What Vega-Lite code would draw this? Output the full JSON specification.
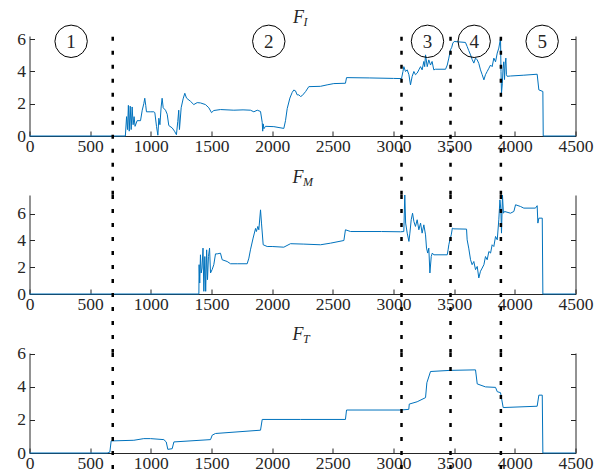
{
  "$schema": "https://vega.github.io/schema/vega-lite/v6.json",
  "padding": {"left": 16.5, "top": 8, "right": 0, "bottom": 0},
  "background": "white",
  "bounds": "flush",
  "spacing": 59,
  "config": {
    "view": {"stroke": null},
    "axis": {
      "domainColor": "#262626", "tickColor": "#262626", "labelColor": "#262626",
      "labelFont": "Liberation Serif", "labelFontSize": 17.5, "tickSize": -5,
      "grid": false, "title": null, "domainWidth": 1, "tickWidth": 1
    },
    "axisX": {"labelPadding": 6},
    "axisY": {"labelPadding": 9}
  },
  "datasets": {
    "FI": [
      {"t":0,"v":0},{"t":790,"v":0},{"t":800,"v":1.2},{"t":808,"v":0.4},{"t":815,"v":1.9},{"t":822,"v":0.3},{"t":830,"v":1.85},{"t":838,"v":0.4},{"t":846,"v":1.8},{"t":854,"v":0.7},{"t":862,"v":1.2},{"t":870,"v":0.6},{"t":887,"v":0.95},{"t":915,"v":0.95},{"t":929,"v":1.6},{"t":942,"v":2.0},{"t":950,"v":2.34},{"t":958,"v":1.9},{"t":964,"v":1.5},{"t":1000,"v":1.5},{"t":1025,"v":1.5},{"t":1033,"v":1.45},{"t":1047,"v":0.58},{"t":1058,"v":0.05},{"t":1066,"v":1.1},{"t":1075,"v":0.7},{"t":1085,"v":1.8},{"t":1093,"v":2.34},{"t":1102,"v":1.75},{"t":1121,"v":1.6},{"t":1135,"v":1.35},{"t":1148,"v":0.65},{"t":1176,"v":0.5},{"t":1195,"v":0.3},{"t":1211,"v":0.08},{"t":1222,"v":0.9},{"t":1230,"v":1.6},{"t":1236,"v":0.4},{"t":1250,"v":1.75},{"t":1266,"v":2.3},{"t":1280,"v":2.65},{"t":1294,"v":2.35},{"t":1327,"v":2.15},{"t":1354,"v":1.95},{"t":1382,"v":2.07},{"t":1409,"v":2.05},{"t":1450,"v":1.95},{"t":1478,"v":1.75},{"t":1500,"v":1.45},{"t":1519,"v":1.58},{"t":1574,"v":1.64},{"t":1684,"v":1.6},{"t":1760,"v":1.62},{"t":1821,"v":1.6},{"t":1849,"v":1.5},{"t":1877,"v":1.6},{"t":1904,"v":1.52},{"t":1918,"v":0.85},{"t":1922,"v":0.3},{"t":1926,"v":0.75},{"t":1932,"v":0.45},{"t":1945,"v":0.6},{"t":2014,"v":0.58},{"t":2096,"v":0.47},{"t":2110,"v":0.95},{"t":2124,"v":1.7},{"t":2146,"v":2.35},{"t":2165,"v":2.7},{"t":2178,"v":2.85},{"t":2192,"v":2.8},{"t":2206,"v":2.55},{"t":2220,"v":2.55},{"t":2234,"v":2.45},{"t":2247,"v":2.5},{"t":2275,"v":2.75},{"t":2302,"v":3.06},{"t":2398,"v":3.08},{"t":2453,"v":3.17},{"t":2508,"v":3.25},{"t":2604,"v":3.27},{"t":2613,"v":3.62},{"t":2800,"v":3.6},{"t":3000,"v":3.57},{"t":3066,"v":3.56},{"t":3078,"v":4.0},{"t":3085,"v":4.3},{"t":3099,"v":4.0},{"t":3113,"v":4.1},{"t":3127,"v":3.8},{"t":3140,"v":3.17},{"t":3154,"v":3.7},{"t":3168,"v":4.0},{"t":3181,"v":3.8},{"t":3195,"v":3.9},{"t":3209,"v":4.1},{"t":3223,"v":4.3},{"t":3236,"v":4.1},{"t":3250,"v":4.62},{"t":3257,"v":4.3},{"t":3264,"v":5.03},{"t":3278,"v":4.3},{"t":3291,"v":4.72},{"t":3305,"v":4.4},{"t":3318,"v":4.62},{"t":3332,"v":4.1},{"t":3346,"v":4.14},{"t":3429,"v":4.14},{"t":3443,"v":4.4},{"t":3456,"v":4.83},{"t":3470,"v":5.35},{"t":3480,"v":5.5},{"t":3489,"v":5.76},{"t":3500,"v":5.86},{"t":3593,"v":5.8},{"t":3607,"v":5.55},{"t":3620,"v":5.3},{"t":3635,"v":5.03},{"t":3648,"v":4.75},{"t":3662,"v":4.52},{"t":3676,"v":4.83},{"t":3690,"v":4.72},{"t":3703,"v":4.5},{"t":3717,"v":4.1},{"t":3731,"v":3.8},{"t":3745,"v":3.48},{"t":3758,"v":3.8},{"t":3772,"v":4.0},{"t":3786,"v":4.2},{"t":3800,"v":4.4},{"t":3813,"v":4.3},{"t":3827,"v":4.83},{"t":3841,"v":4.6},{"t":3855,"v":5.14},{"t":3868,"v":5.45},{"t":3882,"v":6.07},{"t":3886,"v":4.0},{"t":3890,"v":2.65},{"t":3897,"v":3.27},{"t":3903,"v":4.2},{"t":3909,"v":4.6},{"t":3915,"v":3.5},{"t":3920,"v":4.4},{"t":3926,"v":4.83},{"t":3931,"v":3.8},{"t":3937,"v":3.7},{"t":3964,"v":3.72},{"t":4074,"v":3.77},{"t":4184,"v":3.83},{"t":4198,"v":2.86},{"t":4231,"v":2.76},{"t":4234,"v":0},{"t":4500,"v":0}
    ],
    "FM": [
      {"t":0,"v":0},{"t":1396,"v":0},{"t":1398,"v":2.19},{"t":1403,"v":0.82},{"t":1409,"v":2.93},{"t":1415,"v":1.57},{"t":1422,"v":1.94},{"t":1430,"v":3.43},{"t":1437,"v":0.2},{"t":1445,"v":2.8},{"t":1452,"v":0.2},{"t":1460,"v":3.3},{"t":1467,"v":1.07},{"t":1475,"v":2.8},{"t":1484,"v":3.43},{"t":1492,"v":1.57},{"t":1505,"v":1.82},{"t":1519,"v":2.19},{"t":1533,"v":3.0},{"t":1547,"v":3.0},{"t":1574,"v":3.05},{"t":1588,"v":2.56},{"t":1629,"v":2.43},{"t":1657,"v":2.26},{"t":1712,"v":2.26},{"t":1794,"v":2.26},{"t":1808,"v":2.68},{"t":1821,"v":3.3},{"t":1843,"v":4.18},{"t":1863,"v":4.9},{"t":1870,"v":4.67},{"t":1882,"v":5.05},{"t":1890,"v":4.8},{"t":1904,"v":6.29},{"t":1912,"v":5.3},{"t":1926,"v":3.68},{"t":1959,"v":3.55},{"t":2000,"v":3.55},{"t":2096,"v":3.5},{"t":2151,"v":3.76},{"t":2261,"v":3.73},{"t":2398,"v":3.68},{"t":2481,"v":3.8},{"t":2591,"v":4.0},{"t":2604,"v":4.8},{"t":2646,"v":4.67},{"t":2900,"v":4.67},{"t":3058,"v":4.65},{"t":3085,"v":4.67},{"t":3093,"v":7.4},{"t":3100,"v":5.3},{"t":3113,"v":4.55},{"t":3127,"v":3.93},{"t":3135,"v":4.55},{"t":3146,"v":5.55},{"t":3157,"v":6.04},{"t":3168,"v":5.42},{"t":3181,"v":5.05},{"t":3195,"v":5.55},{"t":3209,"v":4.8},{"t":3223,"v":5.3},{"t":3236,"v":4.55},{"t":3250,"v":5.17},{"t":3264,"v":4.42},{"t":3272,"v":3.43},{"t":3282,"v":3.06},{"t":3291,"v":3.43},{"t":3300,"v":1.57},{"t":3311,"v":2.8},{"t":3320,"v":3.06},{"t":3332,"v":2.93},{"t":3443,"v":2.93},{"t":3450,"v":3.3},{"t":3456,"v":3.68},{"t":3465,"v":4.05},{"t":3476,"v":4.42},{"t":3485,"v":4.92},{"t":3497,"v":4.87},{"t":3602,"v":4.85},{"t":3607,"v":4.05},{"t":3620,"v":3.43},{"t":3635,"v":2.56},{"t":3648,"v":2.19},{"t":3662,"v":2.43},{"t":3676,"v":1.82},{"t":3690,"v":2.06},{"t":3703,"v":1.2},{"t":3717,"v":1.7},{"t":3731,"v":1.94},{"t":3745,"v":2.19},{"t":3758,"v":2.8},{"t":3772,"v":2.56},{"t":3786,"v":3.18},{"t":3800,"v":3.06},{"t":3813,"v":3.68},{"t":3827,"v":3.55},{"t":3841,"v":4.3},{"t":3855,"v":4.05},{"t":3868,"v":5.55},{"t":3877,"v":7.04},{"t":3885,"v":6.3},{"t":3890,"v":4.55},{"t":3898,"v":7.4},{"t":3906,"v":6.04},{"t":3915,"v":6.17},{"t":3964,"v":6.04},{"t":3992,"v":6.17},{"t":4006,"v":6.67},{"t":4047,"v":6.54},{"t":4074,"v":6.42},{"t":4170,"v":6.42},{"t":4184,"v":6.6},{"t":4190,"v":5.3},{"t":4198,"v":5.67},{"t":4226,"v":5.67},{"t":4231,"v":0},{"t":4500,"v":0}
    ],
    "FT": [
      {"t":0,"v":0},{"t":640,"v":0},{"t":662,"v":0.05},{"t":673,"v":0.73},{"t":860,"v":0.77},{"t":942,"v":0.87},{"t":997,"v":0.87},{"t":1107,"v":0.81},{"t":1127,"v":0.67},{"t":1140,"v":0.22},{"t":1176,"v":0.26},{"t":1190,"v":0.67},{"t":1492,"v":0.81},{"t":1506,"v":1.08},{"t":1533,"v":1.18},{"t":1904,"v":1.38},{"t":1918,"v":2.03},{"t":2234,"v":2.03},{"t":2604,"v":2.03},{"t":2613,"v":2.6},{"t":3058,"v":2.6},{"t":3126,"v":2.64},{"t":3130,"v":2.96},{"t":3195,"v":3.1},{"t":3264,"v":3.35},{"t":3275,"v":4.25},{"t":3305,"v":4.93},{"t":3470,"v":5.0},{"t":3676,"v":5.03},{"t":3690,"v":4.18},{"t":3758,"v":4.0},{"t":3841,"v":3.97},{"t":3855,"v":3.71},{"t":3882,"v":3.65},{"t":3904,"v":2.75},{"t":4184,"v":2.83},{"t":4198,"v":3.5},{"t":4226,"v":3.5},{"t":4231,"v":0},{"t":4500,"v":0}
    ],
    "events": [{"t":686},{"t":3066},{"t":3470},{"t":3885}],
    "phases": [
      {"t":343,"y":5.87,"label":"1"},{"t":1972,"y":5.87,"label":"2"},{"t":3280,"y":5.87,"label":"3"},{"t":3665,"y":5.87,"label":"4"},{"t":4225,"y":5.87,"label":"5"}
    ]
  },
  "vconcat": [
    {
      "width": 546, "height": 100,
      "resolve": {"axis": {"y": "independent"}},
      "layer": [
        {
          "data": {"name": "FI"},
          "mark": {"type": "line", "color": "#0072BD", "strokeWidth": 1},
          "encoding": {
            "x": {"field": "t", "type": "quantitative", "scale": {"domain": [0, 4500], "nice": false}, "axis": {"values": [0,500,1000,1500,2000,2500,3000,3500,4000,4500], "format": "d", "labelFlush": false, "labelOverlap": false}},
            "y": {"field": "v", "type": "quantitative", "scale": {"domain": [0, 6.2], "nice": false, "zero": false}, "axis": {"values": [0,2,4,6], "format": "d"}}
          }
        },
        {
          "data": {"name": "events"},
          "mark": {"type": "rule", "color": "black", "strokeWidth": 2.5, "strokeDash": [4, 10]},
          "encoding": {
            "x": {"field": "t", "type": "quantitative", "scale": {"domain": [0, 4500], "nice": false}},
            "y": {"datum": 6.15, "type": "quantitative", "scale": {"domain": [0, 6.2], "nice": false, "zero": false}, "axis": {"orient": "right", "values": [0,2,4,6], "labels": false}},
            "y2": {"datum": -3.66}
          }
        },
        {
          "data": {"name": "phases"},
          "mark": {"type": "point", "shape": "circle", "size": 1050, "filled": false, "stroke": "black", "strokeWidth": 1, "opacity": 1},
          "encoding": {
            "x": {"field": "t", "type": "quantitative", "scale": {"domain": [0, 4500], "nice": false}},
            "y": {"field": "y", "type": "quantitative", "scale": {"domain": [0, 6.2], "nice": false, "zero": false}, "axis": null}
          }
        },
        {
          "data": {"name": "phases"},
          "mark": {"type": "text", "font": "Liberation Serif", "fontSize": 19, "color": "#262626", "baseline": "middle", "align": "center", "dy": 1},
          "encoding": {
            "x": {"field": "t", "type": "quantitative", "scale": {"domain": [0, 4500], "nice": false}},
            "y": {"field": "y", "type": "quantitative", "scale": {"domain": [0, 6.2], "nice": false, "zero": false}, "axis": null},
            "text": {"field": "label"}
          }
        },
        {
          "data": {"values": [{}]},
          "mark": {"type": "text", "text": "F", "font": "Liberation Serif", "fontStyle": "italic", "fontSize": 18, "color": "#262626", "baseline": "alphabetic", "align": "center"},
          "encoding": {
            "x": {"datum": 2217, "type": "quantitative", "scale": {"domain": [0, 4500], "nice": false}},
            "y": {"datum": 7.02, "type": "quantitative", "scale": {"domain": [0, 6.2], "nice": false, "zero": false}, "axis": null}
          }
        },
        {
          "data": {"values": [{}]},
          "mark": {"type": "text", "text": "I", "font": "Liberation Serif", "fontStyle": "italic", "fontSize": 12, "color": "#262626", "baseline": "alphabetic", "align": "left"},
          "encoding": {
            "x": {"datum": 2258, "type": "quantitative", "scale": {"domain": [0, 4500], "nice": false}},
            "y": {"datum": 6.83, "type": "quantitative", "scale": {"domain": [0, 6.2], "nice": false, "zero": false}, "axis": null}
          }
        }
      ]
    },
    {
      "width": 546, "height": 99,
      "resolve": {"axis": {"y": "independent"}},
      "layer": [
        {
          "data": {"name": "FM"},
          "mark": {"type": "line", "color": "#0072BD", "strokeWidth": 1},
          "encoding": {
            "x": {"field": "t", "type": "quantitative", "scale": {"domain": [0, 4500], "nice": false}, "axis": {"values": [0,500,1000,1500,2000,2500,3000,3500,4000,4500], "format": "d", "labelFlush": false, "labelOverlap": false}},
            "y": {"field": "v", "type": "quantitative", "scale": {"domain": [0, 7.4], "nice": false, "zero": false}, "axis": {"values": [0,2,4,6], "format": "d"}}
          }
        },
        {
          "data": {"name": "events"},
          "mark": {"type": "rule", "color": "black", "strokeWidth": 2.5, "strokeDash": [4, 10]},
          "encoding": {
            "x": {"field": "t", "type": "quantitative", "scale": {"domain": [0, 4500], "nice": false}},
            "y": {"datum": 7.4, "type": "quantitative", "scale": {"domain": [0, 7.4], "nice": false, "zero": false}, "axis": {"orient": "right", "values": [0,2,4,6], "labels": false}},
            "y2": {"datum": -4.4}
          }
        },
        {
          "data": {"values": [{}]},
          "mark": {"type": "text", "text": "F", "font": "Liberation Serif", "fontStyle": "italic", "fontSize": 18, "color": "#262626", "baseline": "alphabetic", "align": "center"},
          "encoding": {
            "x": {"datum": 2213, "type": "quantitative", "scale": {"domain": [0, 4500], "nice": false}},
            "y": {"datum": 8.32, "type": "quantitative", "scale": {"domain": [0, 7.4], "nice": false, "zero": false}, "axis": null}
          }
        },
        {
          "data": {"values": [{}]},
          "mark": {"type": "text", "text": "M", "font": "Liberation Serif", "fontStyle": "italic", "fontSize": 12, "color": "#262626", "baseline": "alphabetic", "align": "left"},
          "encoding": {
            "x": {"datum": 2254, "type": "quantitative", "scale": {"domain": [0, 4500], "nice": false}},
            "y": {"datum": 8.1, "type": "quantitative", "scale": {"domain": [0, 7.4], "nice": false, "zero": false}, "axis": null}
          }
        }
      ]
    },
    {
      "width": 546, "height": 100,
      "resolve": {"axis": {"y": "independent"}},
      "layer": [
        {
          "data": {"name": "FT"},
          "mark": {"type": "line", "color": "#0072BD", "strokeWidth": 1},
          "encoding": {
            "x": {"field": "t", "type": "quantitative", "scale": {"domain": [0, 4500], "nice": false}, "axis": {"values": [0,500,1000,1500,2000,2500,3000,3500,4000,4500], "format": "d", "labelFlush": false, "labelOverlap": false}},
            "y": {"field": "v", "type": "quantitative", "scale": {"domain": [0, 6.05], "nice": false, "zero": false}, "axis": {"values": [0,2,4,6], "format": "d"}}
          }
        },
        {
          "data": {"name": "events"},
          "mark": {"type": "rule", "color": "black", "strokeWidth": 2.5, "strokeDash": [4, 10]},
          "encoding": {
            "x": {"field": "t", "type": "quantitative", "scale": {"domain": [0, 4500], "nice": false}},
            "y": {"datum": 6.05, "type": "quantitative", "scale": {"domain": [0, 6.05], "nice": false, "zero": false}, "axis": {"orient": "right", "values": [0,2,4,6], "labels": false}},
            "y2": {"datum": -1.03}
          }
        },
        {
          "data": {"values": [{}]},
          "mark": {"type": "text", "text": "F", "font": "Liberation Serif", "fontStyle": "italic", "fontSize": 18, "color": "#262626", "baseline": "alphabetic", "align": "center"},
          "encoding": {
            "x": {"datum": 2213, "type": "quantitative", "scale": {"domain": [0, 4500], "nice": false}},
            "y": {"datum": 6.83, "type": "quantitative", "scale": {"domain": [0, 6.05], "nice": false, "zero": false}, "axis": null}
          }
        },
        {
          "data": {"values": [{}]},
          "mark": {"type": "text", "text": "T", "font": "Liberation Serif", "fontStyle": "italic", "fontSize": 12, "color": "#262626", "baseline": "alphabetic", "align": "left"},
          "encoding": {
            "x": {"datum": 2254, "type": "quantitative", "scale": {"domain": [0, 4500], "nice": false}},
            "y": {"datum": 6.65, "type": "quantitative", "scale": {"domain": [0, 6.05], "nice": false, "zero": false}, "axis": null}
          }
        }
      ]
    }
  ]
}
